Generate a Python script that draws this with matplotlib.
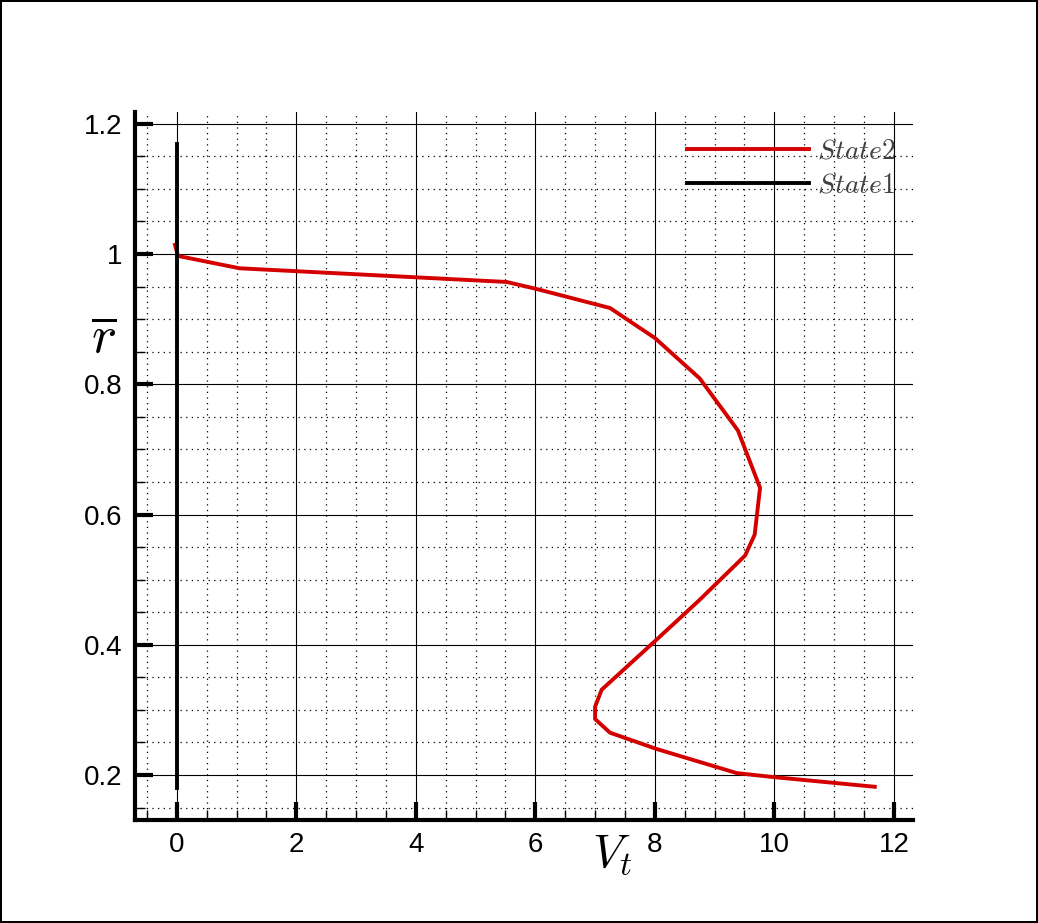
import numpy as np
import matplotlib
matplotlib.use('Agg')
from matplotlib import pyplot as plt
from matplotlib.ticker import MultipleLocator, FormatStrFormatter

plt.rcParams['mathtext.fontset'] = 'cm'
plt.rcParams['font.family'] = ['Liberation Sans', 'DejaVu Sans']

# State2 curve
vt_state2 = [-0.03, 0.02, 1.05, 5.52, 6.03, 7.25, 8.0, 8.75, 9.39, 9.76, 9.67, 9.51,
             8.75, 8.03, 7.11, 7.0, 7.0, 7.25, 8.03, 9.37, 9.97, 11.68]
r_state2 = [1.014, 0.997, 0.978, 0.957, 0.946, 0.917, 0.871, 0.809, 0.729, 0.641, 0.569, 0.537,
            0.469, 0.408, 0.331, 0.305, 0.286, 0.265, 0.240, 0.203, 0.197, 0.182]

# State1 is flat zero
vt_state1 = [0.0, 0.0]
r_state1 = [0.18, 1.169]

xticks = [0, 2, 4, 6, 8, 10, 12]
yticks = [0.2, 0.4, 0.6, 0.8, 1.0, 1.2]

fig = plt.figure(figsize=(10.38, 9.23), dpi=100)
fig.patch.set_edgecolor('black')
fig.patch.set_linewidth(1.5)
ax = fig.add_axes([0.130, 0.1116, 0.7496, 0.7671])

ax.plot(vt_state2, r_state2, color='#d40000', lw=2.8, label='$State2$', zorder=3)
ax.plot(vt_state1, r_state1, color='black', lw=2.8, label='$State1$', zorder=3)

ax.set_xlim(-0.70, 12.32)
ax.set_ylim(0.131, 1.218)
ax.set_xticks(xticks)
ax.set_yticks(yticks)
ax.yaxis.set_major_formatter(FormatStrFormatter('%g'))
ax.xaxis.set_minor_locator(MultipleLocator(0.5))
ax.yaxis.set_minor_locator(MultipleLocator(0.05))

ax.grid(which='major', color='black', lw=0.8, ls='-')
ax.grid(which='minor', color='black', lw=0.9, ls=(0, (1, 3.5)))
ax.set_axisbelow(True)

for s in ['top', 'right']:
    ax.spines[s].set_visible(False)
for s in ['left', 'bottom']:
    ax.spines[s].set_linewidth(3)

ax.tick_params(which='major', direction='in', length=13, width=3, labelsize=20, pad=9)
ax.tick_params(which='minor', direction='in', length=7, width=1)

ax.set_xlabel('$V_t$', fontsize=34)
ax.xaxis.set_label_coords(0.613, -0.018)
ax.set_ylabel(r'$\overline{r}$', fontsize=38, rotation=0)
ax.yaxis.set_label_coords(-0.040, 0.645)

leg = ax.legend(loc='upper right', bbox_to_anchor=(1.011, 0.998), frameon=False,
                fontsize=20, handlelength=4.4, labelspacing=0.3, handletextpad=0.3)
for t in leg.get_texts():
    t.set_color('#404040')

fig.savefig('out.png', dpi=100, edgecolor=fig.get_edgecolor())
